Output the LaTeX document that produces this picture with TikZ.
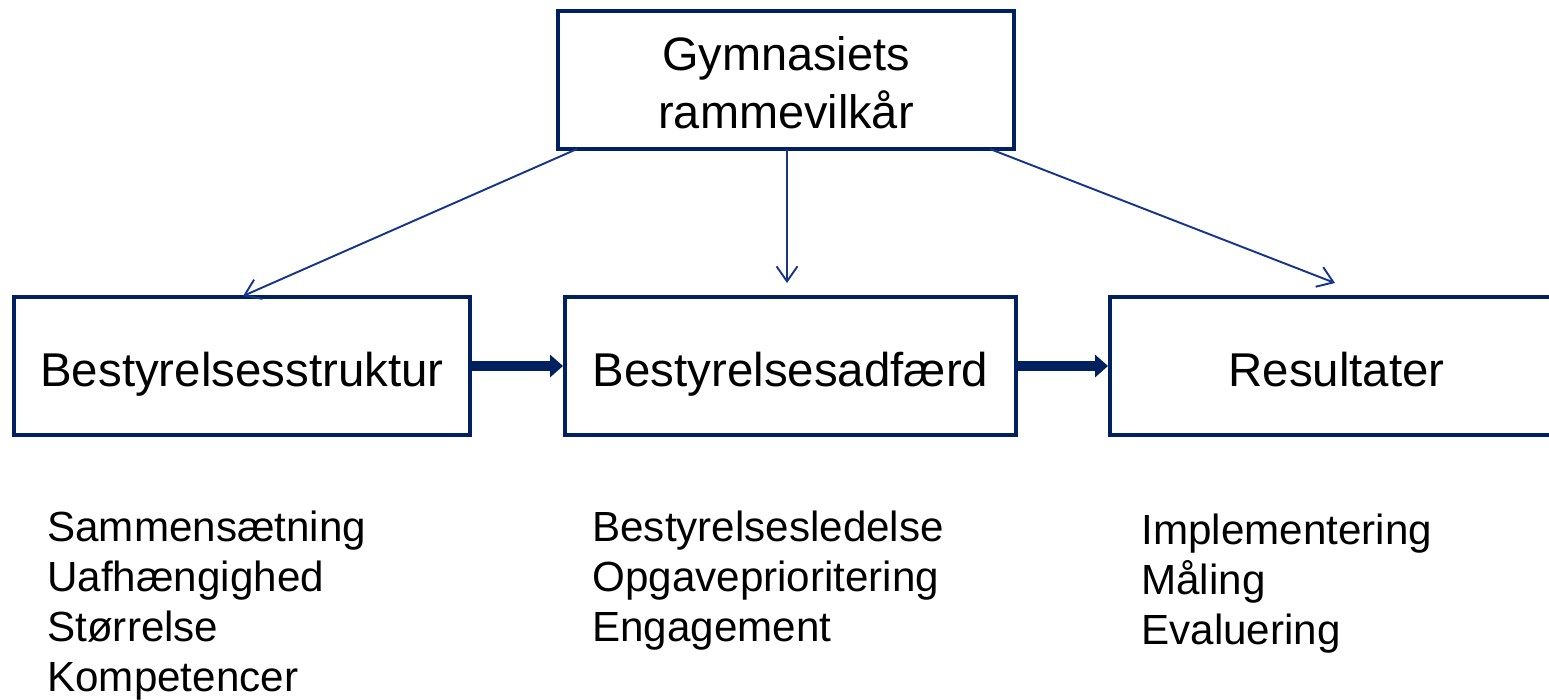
\documentclass[tikz,border=0pt]{standalone}
\usepackage{fontspec}
\setmainfont{Liberation Sans}
\usetikzlibrary{arrows.meta,calc}
\definecolor{navy}{HTML}{002060}
\definecolor{thinblue}{HTML}{17358A}
\begin{document}
\begin{tikzpicture}[x=0.02cm,y=-0.02cm,
  box/.style={draw=navy,line width=2.3pt,inner sep=0pt,minimum height=2.76cm,
    font=\fontsize{27}{32}\selectfont,align=center},
  rowbox/.style={box,text height=23pt,text depth=0pt},
  listtext/.style={inner sep=0pt,anchor=north west,align=left,
    font=\fontsize{24}{28.45}\selectfont},
  bigarrow/.style={draw=navy,line width=5.7pt,-{Triangle[length=0.26cm,width=0.44cm]}},
  thinarrow/.style={draw=thinblue,line width=1.1pt,-{Straight Barb[length=0.3cm,width=0.42cm]}}]
\useasboundingbox (0,0) rectangle (1549,700);
\node[box,minimum width=9.12cm,font=\fontsize{26.7}{33}\selectfont] (top) at (786,80) {\rule{0pt}{23pt}Gymnasiets\\rammevilkår};
\node[rowbox,minimum width=9.12cm] (struct) at (242,366) {Bestyrelsesstruktur};
\node[rowbox,minimum width=9.02cm] (adf) at (790.5,366) {Bestyrelsesadfærd};
\node[rowbox,minimum width=9.06cm] (res) at (1336.5,366) {Resultater};
\draw[bigarrow] (struct.east) -- (adf.west);
\draw[bigarrow] (adf.east) -- (res.west);
\coordinate (s1) at (577,149);
\coordinate (s2) at (787,149);
\coordinate (s3) at (990,149);
\coordinate (e1) at (243,296);
\coordinate (e2) at (787,283);
\coordinate (e3) at (1335,283);
\draw[thinarrow] (s1) -- (e1);
\draw[thinarrow] (s2) -- (e2);
\draw[thinarrow] (s3) -- (e3);
\node[listtext] (l1) at (47,511) {Sammensætning\\Uafhængighed\\Størrelse\\Kompetencer};
\node[listtext] (l2) at (592,511) {Bestyrelsesledelse\\Opgaveprioritering\\Engagement};
\node[listtext] (l3) at (1141,514) {Implementering\\Måling\\Evaluering};
\end{tikzpicture}
\end{document}
